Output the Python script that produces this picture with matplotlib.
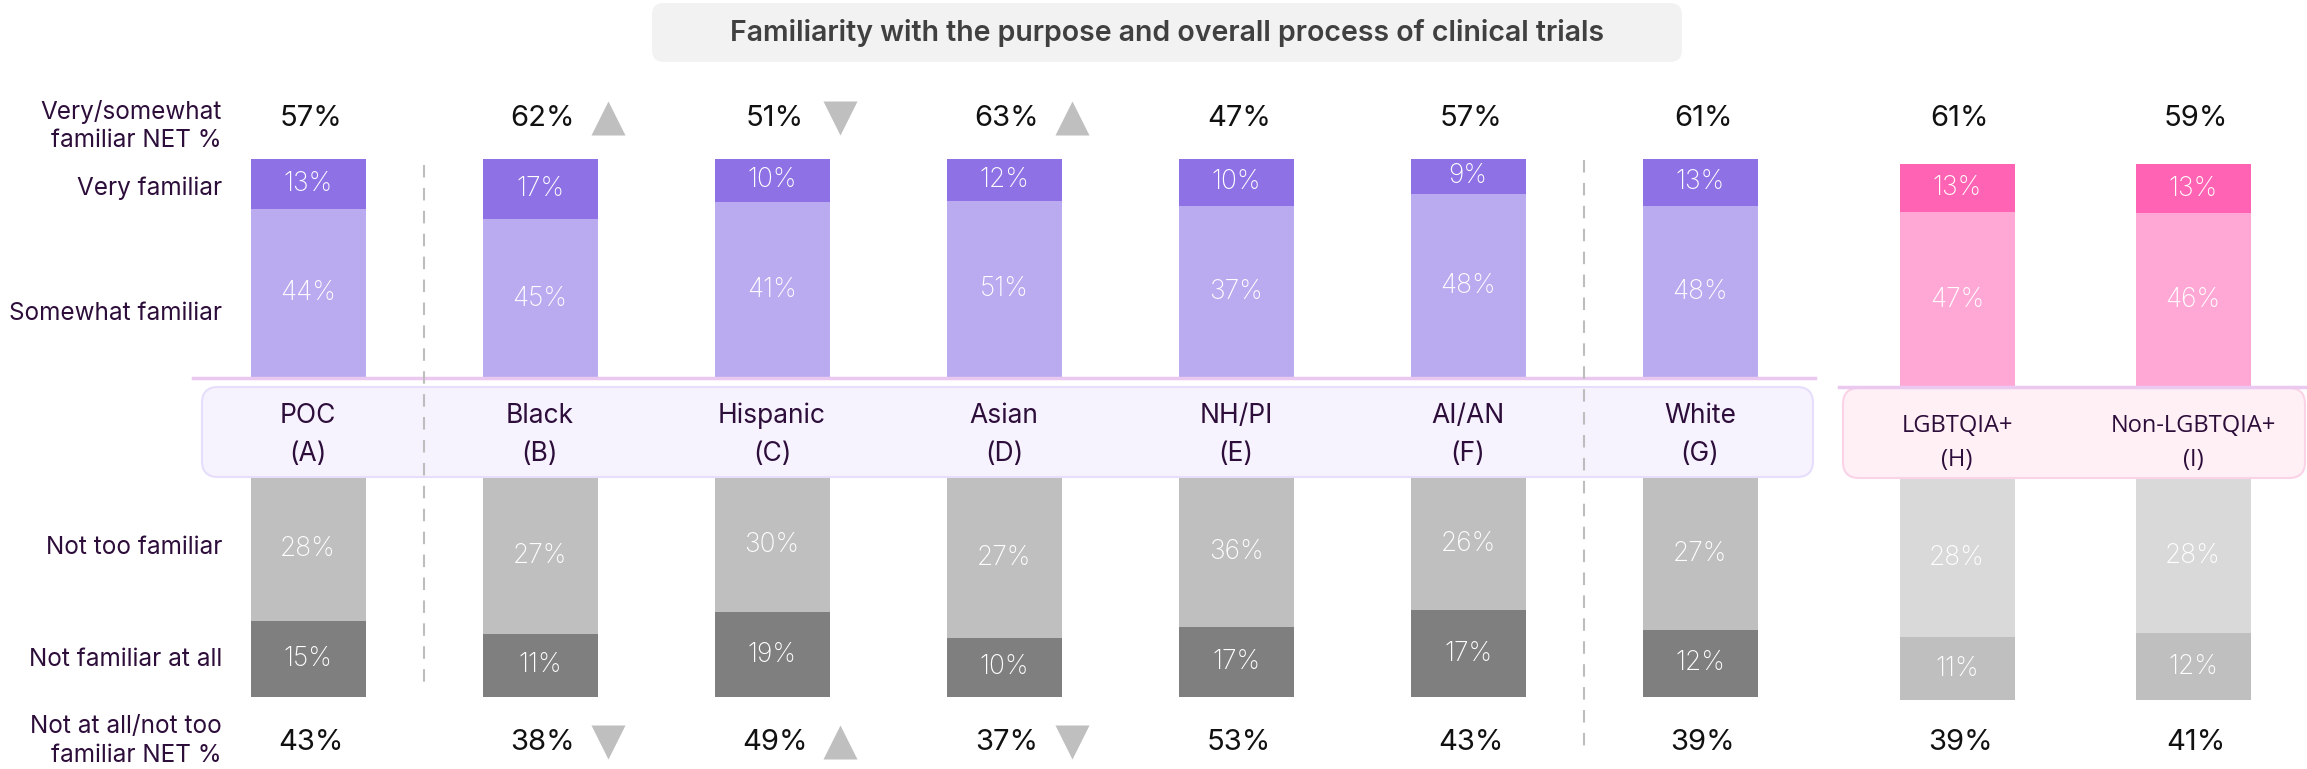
import numpy as np
import matplotlib
matplotlib.use("Agg")
import matplotlib.pyplot as plt
from matplotlib.patches import FancyBboxPatch

W, H = 2307, 769

# race / ethnicity groups
groups = ["POC\n(A)", "Black\n(B)", "Hispanic\n(C)", "Asian\n(D)", "NH/PI\n(E)", "AI/AN\n(F)", "White\n(G)"]
very = [13, 17, 10, 12, 10, 9, 13]
somewhat = [44, 45, 41, 51, 37, 48, 48]
net_top = [57, 62, 51, 63, 47, 57, 61]
top_sig = ["", "up", "down", "up", "", "", ""]
not_too = [28, 27, 30, 27, 36, 26, 27]
not_at_all = [15, 11, 19, 10, 17, 17, 12]
net_bot = [43, 38, 49, 37, 53, 43, 39]
bot_sig = ["", "down", "up", "down", "", "", ""]

# LGBTQIA+ groups
lgbt_groups = ["LGBTQIA+\n(H)", "Non-LGBTQIA+\n(I)"]
lgbt_very = [13, 13]
lgbt_somewhat = [47, 46]
lgbt_net_top = [61, 59]
lgbt_not_too = [28, 28]
lgbt_not_at_all = [11, 12]
lgbt_net_bot = [39, 41]

row_labels = ["Very/somewhat\nfamiliar NET %", "Very familiar", "Somewhat familiar",
              "Not too familiar", "Not familiar at all", "Not at all/not too\nfamiliar NET %"]
title = "Familiarity with the purpose and overall process of clinical trials"

C_VERY, C_SOME = "#8E71E5", "#BAAAF0"
C_PVERY, C_PSOME = "#FF63B3", "#FFA8D6"
C_NOT, C_NOTALL = "#BFBFBF", "#7F7F7F"
C_PNOT, C_PNOTALL = "#D9D9D9", "#BFBFBF"
C_LBL = "#2D0D3A"
C_ARROW = "#BFBFBF"
FONT = "Inter"

bar_w = 115
race_x = 308 + 232 * np.arange(len(groups))
lgbt_x = 1957 + 236 * np.arange(len(lgbt_groups))

fig = plt.figure(figsize=(W / 100, H / 100), dpi=100)


def px_axes(y0, y1):
    ax = fig.add_axes([0, 1 - y1 / H, 1, (y1 - y0) / H])
    ax.set_xlim(0, W)
    ax.set_ylim(0, 1)
    ax.axis("off")
    return ax


def stacked(ax, x, low, high, c_low, c_high):
    low = np.array(low, float)
    high = np.array(high, float)
    tot = low + high
    ax.bar(x, low / tot, width=bar_w, color=c_low, linewidth=0)
    ax.bar(x, high / tot, bottom=low / tot, width=bar_w, color=c_high, linewidth=0)
    for xi, l, h, t in zip(x, low, high, tot):
        ax.text(xi, l / t / 2, f"{int(l)}%", ha="center", va="center",
                color="white", fontsize=19, family=FONT, weight="light")
        ax.text(xi, (l + h / 2) / t, f"{int(h)}%", ha="center", va="center",
                color="white", fontsize=19, family=FONT, weight="light")


stacked(px_axes(159, 378), race_x, somewhat, very, C_SOME, C_VERY)
stacked(px_axes(164, 387), lgbt_x, lgbt_somewhat, lgbt_very, C_PSOME, C_PVERY)
stacked(px_axes(478, 697), race_x, not_at_all, not_too, C_NOTALL, C_NOT)
stacked(px_axes(478, 700), lgbt_x, lgbt_not_at_all, lgbt_not_too, C_PNOTALL, C_PNOT)

# overlay in pixel coordinates
ov = fig.add_axes([0, 0, 1, 1], facecolor="none")
ov.set_xlim(0, W)
ov.set_ylim(H, 0)
ov.axis("off")

ov.add_patch(FancyBboxPatch((652, 3), 1030, 59, boxstyle="round,pad=0,rounding_size=12",
                            fc="#F2F2F2", ec="none"))
ov.text(1167, 33, title, ha="center", va="center", fontsize=20.5, weight="semibold",
        color="#404040", family="Inter")

# category boxes
ov.add_patch(FancyBboxPatch((202, 387), 1611, 90, boxstyle="round,pad=0,rounding_size=16",
                            fc="#F6F3FE", ec="#E6DEFA", lw=1.5))
ov.add_patch(FancyBboxPatch((1843, 388), 462, 90, boxstyle="round,pad=0,rounding_size=16",
                            fc="#FFF0F6", ec="#FBD3E6", lw=1.5))
ov.plot([193, 1815], [378, 378], color="#EBC8F0", lw=2.5)
ov.plot([1839, W], [387, 387], color="#EBC8F0", lw=2.5)

# dashed separators
ov.plot([(race_x[0] + race_x[1]) / 2] * 2, [165, 690], color="#BDBDBD", lw=1.5, ls=(0, (6, 5)))
ov.plot([(race_x[5] + race_x[6]) / 2] * 2, [160, 752], color="#BDBDBD", lw=1.5, ls=(0, (6, 5)))

for xi, g in zip(race_x, groups):
    ov.text(xi, 435, g, ha="center", va="center", fontsize=19, color=C_LBL,
            family=FONT, linespacing=1.6)
for xi, g in zip(lgbt_x, lgbt_groups):
    ov.text(xi, 443, g, ha="center", va="center", fontsize=17, color=C_LBL,
            family="Open Sans", linespacing=1.6)


def net_row(xs, vals, sigs, y):
    for xi, v, s in zip(xs, vals, sigs):
        ov.text(xi + 3, y, f"{v}%", ha="center", va="center", fontsize=21,
                color="#111111", family=FONT)
        if s:
            ov.plot(xi + 68, y, marker="^" if s == "up" else "v", ms=24,
                    color=C_ARROW, mec="none")


net_row(race_x, net_top, top_sig, 118)
net_row(lgbt_x, lgbt_net_top, ["", ""], 118)
net_row(race_x, net_bot, bot_sig, 742)
net_row(lgbt_x, lgbt_net_bot, ["", ""], 742)

row_y = [126, 188, 313, 547, 660, 741]
for y, t in zip(row_y, row_labels):
    ov.text(222, y, t, ha="right", va="center", fontsize=17.5, color=C_LBL,
            family=FONT, linespacing=1.3)

fig.savefig("out.png", dpi=100)
